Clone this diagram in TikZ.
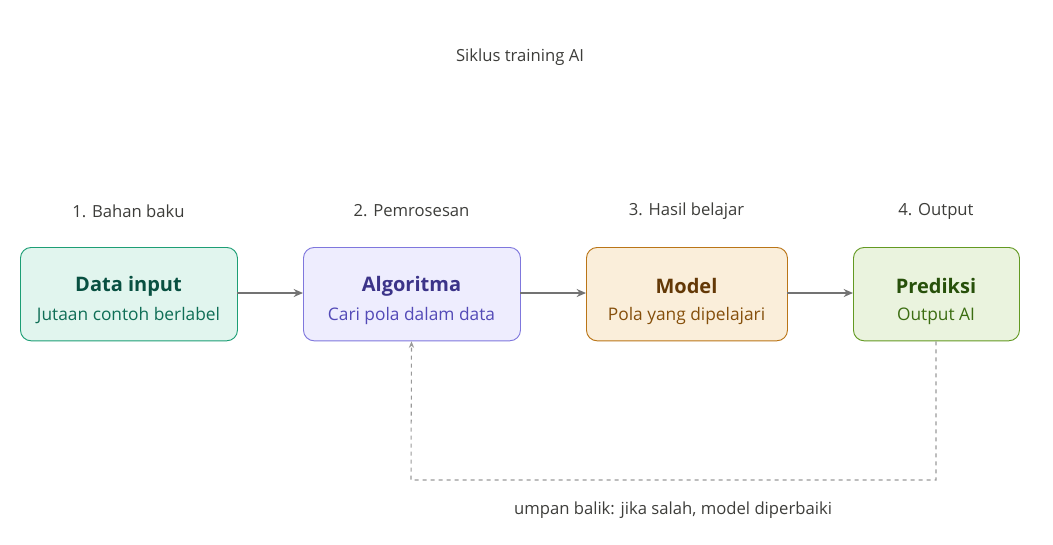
\documentclass[tikz,border=0pt]{standalone}
\usepackage{fontspec}
\setmainfont{Open Sans}
\usetikzlibrary{arrows.meta}
\definecolor{gA}{HTML}{E1F5EE}\definecolor{gAb}{HTML}{1D9E75}\definecolor{gAt}{HTML}{085041}\definecolor{gAs}{HTML}{0F6E56}
\definecolor{pA}{HTML}{EEEDFE}\definecolor{pAb}{HTML}{7F77DD}\definecolor{pAt}{HTML}{3C3489}\definecolor{pAs}{HTML}{534AB7}
\definecolor{oA}{HTML}{FAEEDA}\definecolor{oAb}{HTML}{BA7517}\definecolor{oAt}{HTML}{633806}\definecolor{oAs}{HTML}{854F0B}
\definecolor{lA}{HTML}{EAF3DE}\definecolor{lAb}{HTML}{639922}\definecolor{lAt}{HTML}{27500A}\definecolor{lAs}{HTML}{3B6D11}
\definecolor{txt}{HTML}{3D3D3A}
\begin{document}
\begin{tikzpicture}[x=0.75pt,y=-0.75pt,
 box/.style={draw,rounded corners=8pt,line width=0.7pt,minimum height=70pt,anchor=north west,inner sep=0pt},
 ttl/.style={font=\fontsize{15}{18}\selectfont\bfseries},
 sub/.style={font=\fontsize{13}{16}\selectfont},
 lbl/.style={font=\fontsize{12.5}{15}\selectfont,text=txt},
 arr/.style={-{Stealth[length=7pt,width=6pt,open]},draw=black!55,line width=1.3pt}]
\useasboundingbox (0,0) rectangle (1053,544);
\node[lbl] (t) at (520,57) {Siklus training AI};
\foreach \n/\x/\w/\f/\l in {a/20/217/gA/1. Bahan baku,b/303/217/pA/2. Pemrosesan,c/586/201/oA/3. Hasil belajar,d/853/166/lA/4. Output}{
 \node[box,fill=\f,draw=\f b,minimum width=\w*0.75pt] (\n) at (\x,247) {};
 \node[lbl] (\n l) at (\x+\w/2,211) {\l};}
\node[ttl,text=gAt] (a1) at (128.5,286) {Data input};
\node[sub,text=gAs] (a2) at (128.5,316) {Jutaan contoh berlabel};
\node[ttl,text=pAt] (b1) at (411.5,286) {Algoritma};
\node[sub,text=pAs] (b2) at (411.5,316) {Cari pola dalam data};
\node[ttl,text=oAt] (c1) at (686.5,286) {Model};
\node[sub,text=oAs] (c2) at (686.5,316) {Pola yang dipelajari};
\node[ttl,text=lAt] (d1) at (936,286) {Prediksi};
\node[sub,text=lAs] (d2) at (936,316) {Output AI};
\draw[arr] (237,293) -- (303,293);
\draw[arr] (520,293) -- (586,293);
\draw[arr] (787,293) -- (853,293);
\coordinate (f1) at (936,480); \coordinate (f2) at (411,480);
\draw[dashed,draw=black!40,line width=0.8pt,-{Stealth[length=5pt,width=4pt,open]}] (d.south -| d1) -- (f1) -- (f2) -- (b.south -| b1);
\node[lbl] (fb) at (673,510) {umpan balik: jika salah, model diperbaiki};
\end{tikzpicture}
\end{document}
